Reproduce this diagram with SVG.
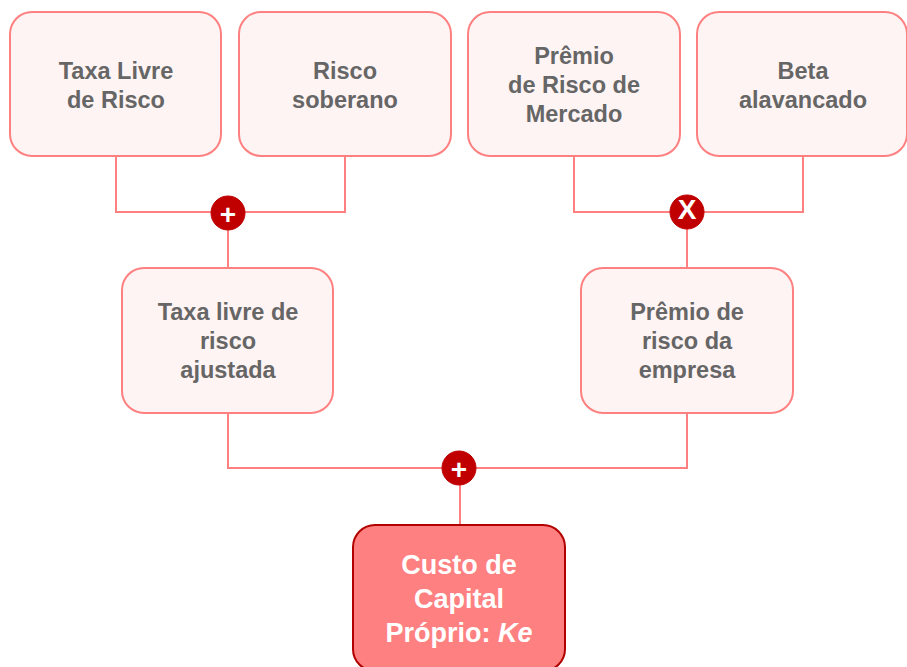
<svg xmlns="http://www.w3.org/2000/svg" width="907" height="667" viewBox="0 0 907 667">
<style>
.box{fill:#FFF4F4;stroke:#FF8080;stroke-width:2}
.main{fill:#FF8080;stroke:#B20000;stroke-width:2}
.t{font-family:"Liberation Sans",Arial,sans-serif;font-weight:bold;font-size:23.5px;fill:#666666;text-anchor:middle}
.tw{font-family:"Liberation Sans",Arial,sans-serif;font-weight:bold;font-size:27px;fill:#FFFFFF;text-anchor:middle}
.c{fill:none;stroke:#FF8080;stroke-width:2}
.op{fill:#C00000;stroke:#C00000;stroke-width:1}
.ot{font-family:"Liberation Sans",Arial,sans-serif;font-weight:bold;font-size:28px;fill:#FFFFFF;text-anchor:middle}
</style>
<g id="connectors">
<polyline class="c" points="116,156 116,212 345,212 345,156"/>
<polyline class="c" points="574,156 574,212 803,212 803,156"/>
<line class="c" x1="228" y1="212" x2="228" y2="268"/>
<line class="c" x1="687" y1="212" x2="687" y2="268"/>
<polyline class="c" points="228,413 228,468 687,468 687,413"/>
<line class="c" x1="460" y1="468" x2="460" y2="525"/>
</g>
<g id="n1"><rect class="box" x="10" y="12" width="211" height="144" rx="22"/>
<text class="t" x="116" y="79">Taxa Livre</text><text class="t" x="116" y="108">de Risco</text></g>
<g id="n2"><rect class="box" x="239" y="12" width="212" height="144" rx="22"/>
<text class="t" x="345" y="79">Risco</text><text class="t" x="345" y="108">soberano</text></g>
<g id="n3"><rect class="box" x="468" y="12" width="212" height="144" rx="22"/>
<text class="t" x="574" y="64">Prêmio</text><text class="t" x="574" y="93">de Risco de</text><text class="t" x="574" y="122">Mercado</text></g>
<g id="n4"><rect class="box" x="697" y="12" width="210" height="144" rx="22"/>
<text class="t" x="803" y="79">Beta</text><text class="t" x="803" y="108">alavancado</text></g>
<g id="n5"><rect class="box" x="122" y="268" width="211" height="145" rx="22"/>
<text class="t" x="228" y="320">Taxa livre de</text><text class="t" x="228" y="349">risco</text><text class="t" x="228" y="378">ajustada</text></g>
<g id="n6"><rect class="box" x="581" y="268" width="212" height="145" rx="22"/>
<text class="t" x="687" y="320">Prêmio de</text><text class="t" x="687" y="349">risco da</text><text class="t" x="687" y="378">empresa</text></g>
<g id="n7"><rect class="main" x="353" y="525" width="212" height="146" rx="22"/>
<text class="tw" x="459" y="574">Custo de</text><text class="tw" x="459" y="608">Capital</text><text class="tw" x="459" y="642">Próprio: <tspan font-style="italic">Ke</tspan></text></g>
<g id="op1"><circle class="op" cx="228" cy="213" r="17"/><text class="ot" x="228" y="224">+</text></g>
<g id="op2"><circle class="op" cx="687" cy="212" r="17"/><text class="ot" x="687" y="218.5" font-size="17px">X</text></g>
<g id="op3"><circle class="op" cx="459" cy="468" r="17"/><text class="ot" x="459" y="479">+</text></g>
</svg>
